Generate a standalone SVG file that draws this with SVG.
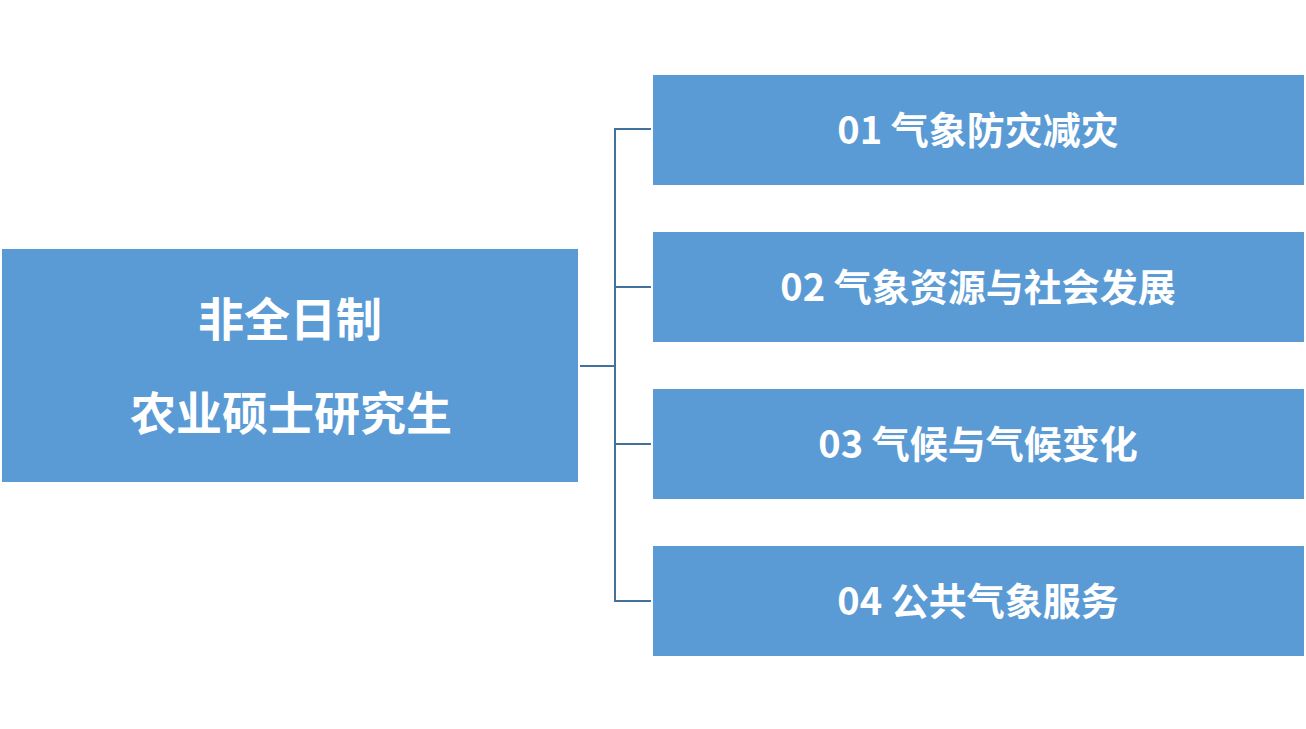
<svg xmlns="http://www.w3.org/2000/svg" width="1306" height="729" viewBox="0 0 1306 729">
<style>
.box{fill:#5B9BD5;}
.t{font-family:"Noto Sans CJK SC","Noto Sans",sans-serif;font-weight:bold;fill:#FFFFFF;text-anchor:middle;}
.c{fill:none;stroke:#41719C;stroke-width:2;}
</style>
<rect width="1306" height="729" fill="#FFFFFF"/>
<g id="connectors">
<path class="c" d="M580,366 H615"/>
<path class="c" d="M651,129 H615 V601 H651"/>
<path class="c" d="M615,287 H651"/>
<path class="c" d="M615,444 H651"/>
</g>
<g id="root">
<rect class="box" x="2" y="249" width="576" height="233"/>
<text class="t" x="290" y="336" font-size="46">非全日制</text>
<text class="t" x="291" y="430" font-size="46">农业硕士研究生</text>
</g>
<g id="n1">
<rect class="box" x="653" y="75" width="651" height="110"/>
<text class="t" x="978" y="144" font-size="38">01 气象防灾减灾</text>
</g>
<g id="n2">
<rect class="box" x="653" y="232" width="651" height="110"/>
<text class="t" x="978" y="301" font-size="38">02 气象资源与社会发展</text>
</g>
<g id="n3">
<rect class="box" x="653" y="389" width="651" height="110"/>
<text class="t" x="978" y="458" font-size="38">03 气候与气候变化</text>
</g>
<g id="n4">
<rect class="box" x="653" y="546" width="651" height="110"/>
<text class="t" x="978" y="615" font-size="38">04 公共气象服务</text>
</g>
</svg>
